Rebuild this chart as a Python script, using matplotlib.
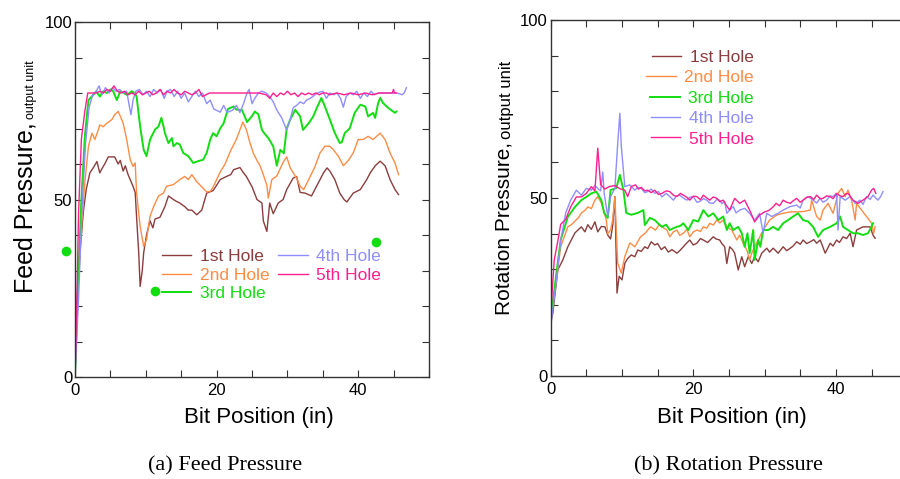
import matplotlib
matplotlib.use('Agg')
import numpy as np
import matplotlib.pyplot as plt
from matplotlib.ticker import MultipleLocator

plt.rcParams['font.family'] = ['Liberation Sans', 'DejaVu Sans']

# ---- data: (bit position [in], pressure [output unit]) ----
feed_h1 = [(0, 0), (0.3, 20), (0.7, 35), (1.2, 47), (1.6, 53), (2.1, 57.5), (2.6, 59), (3.1, 60.7), (3.5, 57.5),
           (3.9, 59), (4.2, 60), (4.7, 62), (5.2, 62), (5.6, 62), (6.1, 60), (6.4, 61), (6.8, 58), (7.1, 59.5),
           (7.5, 57), (8.2, 53.7), (8.5, 52), (8.7, 45), (9.0, 35), (9.2, 25.5), (9.5, 30), (9.7, 35), (10.1, 40),
           (10.6, 44), (11.0, 42), (11.3, 44.5), (12.0, 45), (12.7, 48), (13.2, 51), (13.9, 50), (14.3, 49.5),
           (14.8, 49), (15.5, 48), (16.0, 47), (16.5, 47), (17.2, 45.7), (17.9, 47), (18.6, 51.8), (19.5, 52.5),
           (20.0, 54), (20.5, 55.6), (21.4, 56.5), (22.0, 57), (22.4, 58.4), (23.3, 59), (23.8, 57.5), (24.2, 56.5),
           (25.0, 53.6), (25.7, 50), (26.4, 49), (26.6, 44), (27.1, 41), (27.5, 49), (28.0, 46), (28.7, 49),
           (29.4, 50), (29.9, 52.8), (30.8, 56), (31.3, 56.5), (31.8, 52), (32.5, 51.8), (33.4, 51), (34.4, 54.8),
           (35.1, 57.5), (35.6, 58.9), (36.0, 58), (36.7, 55.6), (37.4, 51.8), (38.0, 50), (38.4, 49.3),
           (39.3, 51.8), (40.3, 52.8), (41.2, 55.6), (41.7, 57.5), (42.4, 59.5), (43.1, 60.8), (43.8, 59.5),
           (44.5, 55.6), (45.2, 52.8), (45.7, 51.4)]
feed_h2 = [(0, 0), (0.4, 25), (0.9, 42), (1.4, 55), (1.9, 65), (2.4, 68.7), (2.8, 66.9), (3.3, 69.7), (3.5, 71),
           (4.0, 70.5), (4.5, 71.5), (5.2, 72.5), (5.6, 73.9), (6.1, 74.8), (6.6, 72.5), (6.8, 71.5), (7.3, 66.9),
           (7.8, 61.2), (8.2, 59.3), (8.5, 60.3), (8.7, 51.8), (9.2, 42.4), (9.7, 36.8), (10.1, 38.7), (10.6, 45.3),
           (11.1, 48), (11.8, 51), (12.5, 51.8), (12.9, 53.7), (13.9, 54.2), (14.8, 55.6), (15.5, 56.5), (16.0, 55.6),
           (16.5, 57), (17.2, 55), (17.7, 54), (18.6, 52.1), (19.1, 52.3), (19.5, 53.5), (20.5, 57.7), (21.2, 60),
           (21.9, 63.4), (22.8, 67), (23.7, 71.8), (24.2, 69.7), (24.7, 66), (25.2, 63), (25.7, 61), (26.1, 59.7),
           (26.6, 57), (27.1, 54), (27.3, 50.4), (27.8, 55.6), (28.5, 56.6), (29.4, 60.5), (29.9, 62), (30.4, 58.9),
           (31.3, 56), (31.8, 53.7), (32.3, 52.8), (33.0, 55.6), (33.9, 59.3), (34.6, 63.1), (35.3, 65), (36.0, 65),
           (36.5, 64), (37.2, 62.2), (37.9, 59.5), (38.6, 61), (39.3, 63.1), (40.0, 66.9), (40.7, 66.9),
           (41.4, 67.8), (42.1, 66.9), (43.1, 68.7), (43.8, 66.9), (44.5, 63.1), (45.2, 60.3), (45.7, 57)]
feed_h3 = [(0, 0), (0.4, 25), (0.9, 50), (1.4, 68), (1.9, 78), (2.6, 79.5), (3.0, 80.5), (3.5, 79), (4.0, 80.5),
           (4.5, 80), (5.0, 81), (5.4, 80.5), (5.9, 78), (6.4, 80.5), (6.9, 80), (7.3, 79.5), (7.7, 80), (8.0, 80.5),
           (8.4, 80), (8.7, 79), (9.2, 70.6), (9.7, 64), (10.1, 62.2), (10.6, 66.9), (11.3, 69.7), (11.8, 70.6),
           (12.2, 73), (12.5, 70.6), (12.7, 68.7), (13.2, 65.9), (13.7, 67.3), (13.9, 65), (14.4, 65.9),
           (14.8, 65.5), (15.3, 63.1), (16.0, 62.2), (16.7, 60.3), (17.4, 60.8), (18.1, 61.2), (18.6, 63.1),
           (19.1, 66.9), (19.5, 68.7), (20.0, 67.8), (20.5, 70), (21.0, 71.5), (21.6, 75.5), (22.4, 76.2),
           (22.8, 75.3), (23.6, 75.2), (24.3, 71.8), (25.0, 73.5), (25.4, 74.8), (25.9, 74), (26.4, 69.6),
           (26.8, 68.5), (27.3, 67.3), (28.0, 65), (28.5, 59.5), (29.0, 64), (29.5, 63), (29.9, 70), (30.4, 72.5),
           (31.1, 75.3), (31.8, 73.4), (32.2, 69.6), (33.0, 71.5), (33.6, 73.2), (34.2, 76), (34.8, 78.6),
           (35.3, 76.2), (36.0, 72.5), (36.7, 68.7), (37.4, 65.9), (37.7, 66.2), (38.1, 68.7), (38.8, 70),
           (39.5, 74.4), (40.3, 76.7), (41.0, 76.2), (41.4, 73.4), (42.1, 74.4), (42.4, 73), (42.8, 77),
           (43.1, 78.6), (43.5, 77.2), (44.3, 75.7), (45.2, 74.4), (45.4, 74.8)]
feed_h4 = [(0, 0), (0.5, 22), (1.0, 48), (1.5, 66), (2.0, 76), (2.5, 79.5), (3.0, 80.5), (3.4, 82), (3.8, 79.5),
           (4.3, 81.5), (4.8, 80), (5.3, 81.5), (5.8, 80.5), (6.3, 81), (6.8, 80), (7.3, 80.5), (7.7, 76),
           (7.9, 73.9), (8.2, 78), (8.6, 80.5), (9.1, 81), (9.6, 79.5), (10.1, 80.5), (10.6, 79), (11.1, 81),
           (11.6, 80), (12.1, 81), (12.6, 78.5), (13.0, 80.5), (13.5, 81), (14.0, 79), (14.5, 80.5), (15.0, 78.5),
           (15.5, 80), (16.0, 77.5), (16.5, 79), (17.0, 80.5), (17.5, 79), (18.0, 80), (18.6, 77), (19.1, 78),
           (19.6, 75.5), (20.5, 74.6), (21.0, 76.5), (21.5, 74.5), (22.3, 75.2), (22.8, 76.5), (23.3, 74.5),
           (23.8, 77), (24.3, 80), (24.6, 81), (25.0, 77), (25.4, 78.5), (25.9, 80), (26.4, 80.5), (27.0, 80),
           (27.5, 79), (28.0, 77.5), (28.5, 75.2), (29.2, 73), (29.6, 71), (29.9, 69.6), (30.4, 72.5), (30.8, 75.8),
           (31.3, 76.5), (31.8, 77.5), (32.3, 77), (32.7, 78), (33.2, 78.5), (33.6, 79), (34.2, 80), (35.0, 80.5),
           (35.5, 78.5), (36.0, 80), (36.5, 79.5), (37.0, 80), (37.5, 78.5), (37.9, 76), (38.3, 79), (38.8, 80),
           (39.3, 79.5), (39.8, 80.5), (40.3, 78.5), (40.8, 80), (41.3, 79), (41.8, 80.5), (42.3, 79.5), (42.8, 80),
           (43.3, 80), (44.0, 80), (45.0, 80), (45.5, 80), (46.2, 79.5), (46.5, 80), (46.8, 81.5)]
feed_h5 = [(0, 0), (0.3, 25), (0.5, 46), (0.9, 67), (1.4, 75), (1.8, 80), (2.5, 80), (3.0, 80), (3.5, 80.5),
           (4.0, 80), (4.5, 81), (5.0, 80.5), (5.5, 82), (6.0, 80.5), (6.5, 80), (7.0, 80.5), (7.5, 79.5), (8.0, 80),
           (8.5, 79.5), (9.0, 80.5), (9.5, 79.5), (10.0, 80), (10.5, 80.5), (11.0, 79.5), (11.5, 80), (12.0, 81),
           (12.5, 79.5), (13.0, 80.5), (13.5, 80), (14.0, 81), (14.5, 80), (15.0, 79.5), (15.5, 80.5), (16.0, 80),
           (16.5, 79.5), (17.0, 80), (17.5, 81), (18.0, 79), (18.5, 79.5), (19.0, 80), (20.0, 80), (21.0, 80),
           (22.0, 80), (23.0, 80), (24.0, 80), (25.0, 80), (26.0, 80), (27.0, 79.5), (27.5, 78.5), (28.0, 80),
           (28.5, 79), (29.0, 80), (29.5, 79.5), (30.0, 80.5), (30.5, 79.5), (31.0, 80), (31.5, 79), (32.0, 80),
           (32.5, 79.5), (33.0, 80), (33.5, 79.5), (34.0, 80), (34.5, 79.5), (35.0, 80), (35.5, 80), (36.0, 79.5),
           (37.0, 80), (38.0, 79.5), (39.0, 80), (40.0, 79.5), (41.0, 80), (42.0, 79.5), (43.0, 80), (44.0, 80),
           (44.8, 80), (45.0, 81), (45.1, 80), (45.4, 80)]
# stray green markers on the feed panel
feed_dots_x = [-1.3, 11.3, 42.5]
feed_dots_y = [35.5, 24.2, 38]

rot_h1 = [(0, 15), (0.3, 17.7), (1.0, 29.8), (1.7, 32.6), (2.4, 36.3), (3.4, 40.2), (4.3, 41.9), (4.8, 40.5),
          (5.2, 42.5), (5.7, 41.2), (6.2, 43.3), (6.6, 40.5), (7.1, 42.0), (7.6, 41.9), (8.0, 39.6), (8.4, 38.5),
          (8.7, 42.4), (9.0, 50.4), (9.3, 23.3), (9.6, 28), (10.0, 27), (10.4, 31.7), (10.8, 33), (11.3, 34),
          (11.8, 33.5), (12.2, 35.4), (12.7, 35), (13.2, 36.3), (13.6, 35.8), (14.1, 37.7), (14.6, 36.8),
          (15.0, 37.2), (15.5, 35.5), (16.0, 36.3), (16.5, 34.8), (17.0, 35.5), (17.7, 34.5), (18.1, 35.2),
          (18.6, 36.3), (19.0, 37.2), (19.5, 38.2), (20.0, 36.8), (20.5, 37.3), (21.0, 38.6), (21.4, 38.2),
          (22.0, 37.5), (22.8, 39.1), (23.2, 38.5), (23.7, 38.2), (24.0, 37.2), (24.4, 36.3), (24.7, 31.6),
          (25.1, 36.3), (25.5, 35.5), (25.8, 34.5), (26.3, 29.8), (26.8, 33.5), (27.2, 30.7), (27.7, 33.5),
          (28.2, 31.6), (28.6, 33.5), (29.1, 32.1), (29.6, 34.5), (30.3, 35.9), (30.7, 34.8), (31.2, 35.9),
          (31.9, 34.5), (32.6, 36.3), (33.1, 35.2), (33.6, 35.9), (34.0, 36.5), (34.5, 37.7), (35.0, 37),
          (35.4, 38.2), (35.9, 37.2), (36.4, 37.7), (36.9, 38.3), (37.3, 37.3), (37.8, 38.2), (38.5, 34.5),
          (39.2, 37.3), (39.6, 36.5), (40.1, 38.2), (40.5, 37.5), (41.0, 39.1), (41.5, 38.6), (42.0, 40.1),
          (42.4, 36.3), (42.9, 41), (43.8, 41.9), (44.8, 41.9), (45.2, 39.6), (45.5, 38.7)]
rot_h2 = [(0, 18), (0.8, 27), (1.4, 36.3), (2.4, 41.9), (2.9, 42.5), (3.4, 43.5), (3.9, 44.5), (4.3, 45.8),
          (4.8, 46.5), (5.2, 47.5), (5.7, 47), (6.2, 49.4), (6.6, 50.4), (7.1, 48.6), (7.5, 46), (7.8, 43.8),
          (8.0, 40), (8.4, 41), (8.7, 44), (9.0, 50.4), (9.4, 31.7), (9.9, 28.9), (10.4, 33.6), (11.1, 37.4),
          (11.8, 36.3), (12.6, 39.1), (13.2, 40), (14.0, 41.9), (14.7, 41), (15.2, 42.5), (15.6, 41.9), (16.3, 41),
          (16.7, 39.1), (17.2, 40.5), (17.7, 41), (18.1, 39.5), (18.6, 40.1), (19.1, 41.2), (19.5, 39.1),
          (20.0, 40.5), (20.5, 41), (21.0, 40.6), (21.4, 41.9), (21.9, 41.5), (22.3, 42.9), (22.8, 42.4),
          (23.3, 43.8), (23.7, 43), (24.2, 43.8), (24.7, 41.9), (25.4, 41), (26.1, 38.2), (26.5, 39.6), (27.0, 37.3),
          (27.5, 35.4), (27.9, 32.6), (28.2, 34.5), (28.6, 36.3), (29.1, 38.2), (29.8, 41), (30.7, 43.8),
          (31.7, 45.2), (32.6, 45.7), (33.6, 46.1), (34.5, 46.1), (35.4, 46.2), (36.4, 46.6), (36.6, 49.4),
          (37.3, 44.8), (37.8, 43.8), (38.2, 46.6), (38.9, 48.5), (39.6, 45.7), (40.3, 51.3), (40.8, 52.7),
          (41.3, 50.4), (41.7, 52.2), (42.2, 49.4), (42.7, 43.8), (42.9, 48.5), (43.6, 46.6), (44.3, 44.8),
          (45.0, 42.9), (45.3, 40.1), (45.5, 42)]
rot_h3 = [(0, 15.7), (0.8, 28.9), (1.4, 38.2), (2.4, 44.7), (3.4, 47.5), (4.3, 49.4), (5.0, 50.3), (5.7, 51.3),
          (6.4, 51.8), (7.1, 49.4), (7.5, 45.8), (8.0, 44.4), (8.4, 52.2), (9.2, 52.8), (9.7, 56.5), (10.2, 52.2),
          (10.6, 45.8), (11.3, 45.3), (12.2, 45.8), (13.0, 46.6), (13.2, 42.4), (13.9, 44.4), (14.6, 43.8),
          (15.2, 42.6), (15.6, 41.9), (16.2, 42.5), (16.7, 41), (17.2, 41.5), (17.7, 41.9), (18.2, 42.2),
          (18.6, 42.9), (19.3, 41), (20.0, 43.8), (20.7, 43.4), (21.4, 46.6), (22.1, 44.8), (22.8, 45.7),
          (23.5, 43.8), (24.2, 44.8), (24.7, 41), (25.1, 42.9), (25.6, 41), (26.3, 41.9), (26.8, 40.1), (27.2, 36.3),
          (27.6, 40.1), (27.9, 34.5), (28.4, 41), (28.6, 32.6), (29.1, 38.2), (29.4, 36.3), (29.8, 41), (30.5, 41),
          (31.2, 41.9), (31.9, 41), (32.6, 42.9), (33.3, 43.8), (34.0, 44.8), (34.7, 45.7), (35.4, 43.8),
          (36.1, 43.4), (36.8, 41.9), (37.5, 39.1), (38.2, 41), (39.2, 41.9), (40.1, 42.9), (40.6, 44.8),
          (41.0, 41.9), (41.7, 41), (42.4, 40.1), (43.1, 40.1), (43.8, 39.6), (44.5, 40.1), (45.0, 41.9), (45.2, 42.9)]
rot_h4 = [(0, 13.8), (0.8, 27), (1.4, 38), (2.1, 45.8), (2.8, 49.4), (3.6, 52.2), (4.3, 50.8), (5.0, 52.7),
          (5.7, 52.2), (6.2, 53.5), (6.6, 52.7), (7.0, 52), (7.3, 57.3), (7.5, 51.3), (8.0, 44.7), (8.4, 50.4),
          (9.0, 52.7), (9.4, 65.4), (9.7, 73.8), (9.9, 64.5), (10.4, 53.2), (11.1, 53.7), (11.8, 52.2), (12.2, 53),
          (12.7, 52.7), (13.2, 51.5), (13.6, 51.8), (14.1, 52.5), (14.6, 51.3), (15.1, 51.8), (15.6, 50.3),
          (16.2, 51.3), (16.7, 50.4), (17.2, 49.4), (17.6, 50.5), (18.1, 50.8), (18.6, 50), (19.1, 49.4),
          (19.5, 50.2), (20.0, 50.4), (20.5, 48.8), (20.9, 49), (21.4, 49.8), (21.9, 49.4), (22.3, 48.6),
          (22.8, 48.5), (23.3, 49.6), (23.7, 49.4), (24.0, 48.4), (24.4, 49), (24.7, 45.7), (25.2, 46.8),
          (25.6, 47.6), (26.0, 45.8), (26.5, 46.6), (27.2, 47.1), (27.9, 45.7), (28.6, 43.8), (29.3, 45.7),
          (29.8, 40.1), (30.3, 45.7), (31.0, 44.8), (31.9, 45.7), (32.6, 46.6), (33.6, 47.6), (34.5, 48),
          (35.0, 47.2), (35.4, 49.4), (36.1, 50.4), (36.8, 49.4), (37.3, 48.6), (37.8, 49.9), (38.2, 48.8),
          (38.7, 49.4), (39.2, 50.6), (39.6, 50.4), (40.1, 51.3), (40.3, 41), (40.6, 50.4), (41.3, 49.4),
          (42.0, 50.4), (42.7, 48.5), (43.4, 49.4), (43.8, 48.2), (44.3, 50.4), (44.8, 49.6), (45.2, 50.8),
          (45.9, 49.4), (46.3, 50.5), (46.6, 51.8)]
rot_h5 = [(0, 17.7), (0.5, 32.6), (1.0, 37.9), (1.4, 42.6), (2.1, 44), (2.8, 47.5), (3.6, 50.3), (4.3, 50.3),
          (5.0, 51.3), (5.7, 53.2), (6.2, 52), (6.6, 64), (7.0, 53.8), (7.6, 52.5), (8.2, 53.2), (9.0, 53.5),
          (9.7, 52.6), (10.4, 52.2), (10.8, 50.4), (11.3, 53.2), (11.9, 53.7), (12.3, 52.5), (12.7, 53), (13.2, 52),
          (13.6, 52.2), (14.1, 51.5), (14.6, 52.2), (15.1, 51), (15.6, 51.3), (16.2, 52), (16.7, 51.8), (17.2, 50.8),
          (17.7, 50.4), (18.2, 51.3), (18.6, 50.8), (19.1, 50.2), (19.5, 49.4), (20.0, 50.5), (20.5, 50.4),
          (21.0, 49.5), (21.4, 50.8), (21.9, 50), (22.3, 49.4), (22.8, 50.3), (23.3, 49.9), (23.7, 49), (24.2, 49.4),
          (24.6, 48), (25.1, 46.6), (25.8, 49.9), (26.5, 48.5), (27.2, 49.4), (27.9, 46.6), (28.6, 43.3),
          (29.3, 45.2), (30.0, 46.1), (30.6, 46.5), (31.2, 47.5), (31.6, 48.5), (32.1, 47.8), (32.6, 49.4),
          (33.1, 48.8), (33.6, 48.5), (34.0, 49.2), (34.5, 49.9), (35.0, 48.8), (35.4, 49.4), (35.9, 50.2),
          (36.4, 50.4), (36.9, 49.6), (37.3, 50.8), (37.8, 49.8), (38.2, 49.9), (38.7, 50.6), (39.2, 50.4),
          (39.6, 49.8), (40.1, 51.3), (40.6, 50.6), (41.0, 50.4), (41.4, 51.2), (41.7, 51.3), (42.4, 49.4),
          (43.1, 48.5), (43.8, 49.4), (44.5, 50.4), (45.0, 52.2), (45.3, 52.7), (45.6, 51.3)]

hole_names = ['1st Hole', '2nd Hole', '3rd Hole', '4th Hole', '5th Hole']
colors = ['#8b3d3d', '#ff8c45', '#11dd11', '#8e8eff', '#ff1f8f']
widths = [1.0, 1.0, 1.4, 1.0, 1.0]

W, H = 900, 479


def two_part_ylabel(fig, main, x_px, y_px, size_main, size_sub):
    # big label, then the small "output unit" continuing up the same baseline
    t = fig.text(x_px / W, 1 - y_px / H, main, rotation=90, rotation_mode='anchor',
                 ha='left', va='baseline', fontsize=size_main)
    fig.canvas.draw()
    bb = t.get_window_extent()
    fig.text((x_px + 1) / W, (bb.y1 + 3) / H, 'output unit', rotation=90, rotation_mode='anchor',
             ha='left', va='baseline', fontsize=size_sub)


def draw_panel(ax, series):
    for i, s in enumerate(series):
        xy = np.array(s)
        ax.plot(xy[:, 0], xy[:, 1], color=colors[i], lw=widths[i], label=hole_names[i])
    ax.set_xlim(0, 50)
    ax.set_ylim(0, 100)
    ax.xaxis.set_major_locator(MultipleLocator(20))
    ax.xaxis.set_minor_locator(MultipleLocator(5))
    ax.yaxis.set_major_locator(MultipleLocator(50))
    ax.yaxis.set_minor_locator(MultipleLocator(10))
    ax.tick_params(which='both', direction='in', top=True, right=True, length=5, width=0.8, color='#333333')
    ax.tick_params(axis='y', labelsize=12, pad=2)
    ax.tick_params(axis='x', labelsize=12, pad=4)
    for sp in ax.spines.values():
        sp.set_linewidth(1.0)
        sp.set_color('#333333')


fig = plt.figure(figsize=(W / 100., H / 100.), dpi=100)
ax1 = fig.add_axes([75 / W, 1 - 377 / H, 354 / W, 355 / H])
ax2 = fig.add_axes([550.7 / W, 1 - 376 / H, 356.5 / W, 356 / H])

draw_panel(ax1, [feed_h1, feed_h2, feed_h3, feed_h4, feed_h5])
ax1.plot(feed_dots_x, feed_dots_y, 'o', color=colors[2], ms=7, mec='none', clip_on=False)
draw_panel(ax2, [rot_h1, rot_h2, rot_h3, rot_h4, rot_h5])

ax1.legend(ncol=2, loc='upper left', bbox_to_anchor=(0.245, 0.361), frameon=False, fontsize=12.5,
           handlelength=1.7, handletextpad=0.5, labelspacing=0.2, columnspacing=0.5,
           borderpad=0, borderaxespad=0, labelcolor='linecolor')
leg2 = ax2.legend(ncol=1, loc='upper right', bbox_to_anchor=(0.57, 0.916), frameon=False, fontsize=12.5,
                  handlelength=1.7, handletextpad=0.5, labelspacing=0.3,
                  borderpad=0, borderaxespad=0, labelcolor='linecolor')
# right-align the rows of the rotation legend, as in the original
try:
    for col in leg2._legend_handle_box.get_children():
        col.align = 'right'
except AttributeError:
    pass

fig.text(259 / W, 1 - 417 / H, 'Bit Position (in)', ha='center', va='center', fontsize=16)
fig.text(732 / W, 1 - 417 / H, 'Bit Position (in)', ha='center', va='center', fontsize=16)
fig.text(225 / W, 1 - 466 / H, '(a) Feed Pressure', ha='center', va='center', fontsize=16,
         family='Liberation Serif')
fig.text(728 / W, 1 - 466 / H, '(b) Rotation Pressure', ha='center', va='center', fontsize=16,
         family='Liberation Serif')

two_part_ylabel(fig, 'Feed Pressure,', 33, 293, 18, 9)
two_part_ylabel(fig, 'Rotation Pressure,', 510, 315, 15, 12)

fig.savefig('out.png', dpi=100)
